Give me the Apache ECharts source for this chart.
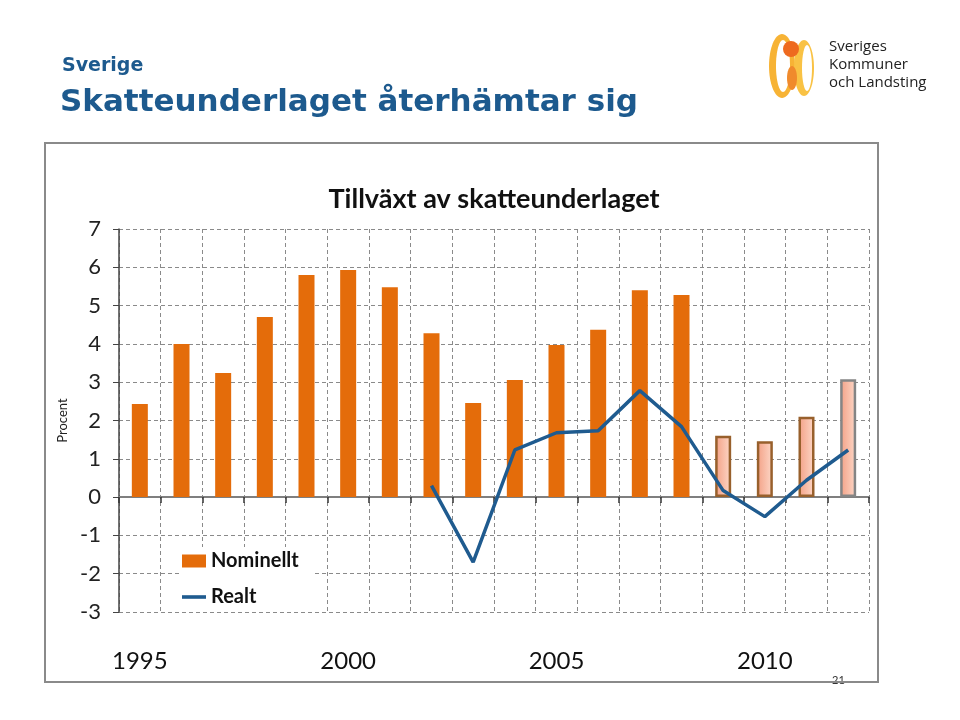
<!DOCTYPE html>
<html><head><meta charset="utf-8">
<script src="https://cdn.jsdelivr.net/npm/echarts@6/dist/echarts.min.js"></script>
<style>html,body{margin:0;padding:0;background:#fff}#c{width:960px;height:720px}</style>
</head><body><div id="c"></div>
<script>
const years = ['1995','1996','1997','1998','1999','2000','2001','2002','2003','2004','2005','2006','2007','2008','2009','2010','2011','2012'];
const nominellt = [2.43, 4.0, 3.24, 4.7, 5.8, 5.93, 5.48, 4.28, 2.46, 3.06, 3.97, 4.37, 5.4, 5.28, 1.6, 1.46, 2.1, 3.08];
const realt = [null, null, null, null, null, null, null, 0.3, -1.7, 1.23, 1.68, 1.73, 2.78, 1.84, 0.17, -0.51, 0.44, 1.23];
const forecastStart = 14;
const yTicks = [-3, -2, -1, 0, 1, 2, 3, 4, 5, 6, 7];
const xLabelYears = ['1995','2000','2005','2010'];

const chart = echarts.init(document.getElementById('c'), null, {renderer:'canvas'});
const grad = new echarts.graphic.LinearGradient(0, 0, 1, 0, [
  {offset:0, color:'#f3a085'}, {offset:1, color:'#fdd8c8'}]);
const barData = nominellt.map((v, i) => {
  if (i < forecastStart) return v;
  return {value: v, itemStyle: {color: grad, borderColor: i === years.length - 1 ? '#858585' : '#98602c', borderWidth: 2.5}};
});
const font = 'Lato, "Open Sans", sans-serif';
chart.setOption({
  animation: false,
  title: [
    {text: 'Sverige', left: 57, top: 52, textStyle: {fontFamily: '"DejaVu Sans", sans-serif', fontSize: 19, fontWeight: 'bold', color: '#1d5a8e'}},
    {text: 'Skatteunderlaget återhämtar sig', left: 55, top: 82, textStyle: {fontFamily: '"DejaVu Sans", sans-serif', fontSize: 31, fontWeight: 'bold', color: '#1d5a8e'}},
    {text: 'Tillväxt av skatteunderlaget', left: 489, top: 181, textAlign: 'center', textStyle: {fontFamily: font, fontSize: 27, fontWeight: 'bold', color: '#111'}}
  ],
  legend: {
    left: 180, top: 547, orient: 'vertical', itemGap: 16, itemWidth: 24, itemHeight: 13,
    backgroundColor: '#fff', padding: [4, 14, 4, 2],
    textStyle: {fontFamily: font, fontSize: 20, fontWeight: 'bold', color: '#111'},
    data: [{name: 'Nominellt', icon: 'rect'}, {name: 'Realt', icon: 'path://M0,0H40V6H0Z'}]
  },
  grid: {left: 119, right: 91, top: 229, bottom: 108},
  xAxis: [
    {type: 'category', data: years, axisLine: {onZero: true, lineStyle: {color: '#7f7f7f', width: 2}},
     axisTick: {show: true, alignWithLabel: false, length: 6, lineStyle: {color: '#333', width: 1.5}},
     axisLabel: {show: false},
     splitLine: {show: true, lineStyle: {color: '#8a8a8a', type: [4, 3], width: 1}}},
    {type: 'category', data: years, position: 'bottom', axisLine: {show: false}, axisTick: {show: false},
     axisLabel: {show: true, margin: 37, interval: 0, fontFamily: font, fontSize: 24, color: '#111',
       formatter: v => xLabelYears.includes(v) ? v : ''}}
  ],
  yAxis: {
    type: 'value', min: yTicks[0], max: yTicks[yTicks.length - 1], interval: 1,
    name: 'Procent', nameLocation: 'middle', nameGap: 41, nameRotate: 90,
    nameTextStyle: {fontFamily: font, fontSize: 13, color: '#222'},
    axisLine: {show: true, lineStyle: {color: '#444', width: 1.5}},
    axisTick: {show: true, length: 6, lineStyle: {color: '#444'}},
    axisLabel: {fontFamily: font, fontSize: 22, color: '#222', margin: 18},
    splitLine: {show: true, lineStyle: {color: '#8a8a8a', type: [4, 3], width: 1}}
  },
  series: [
    {name: 'Nominellt', type: 'bar', data: barData, barWidth: 16, itemStyle: {color: '#e46c0a'}},
    {name: 'Realt', type: 'line', data: realt, symbol: 'none', connectNulls: false,
     lineStyle: {color: '#1f5b8f', width: 3.5}, itemStyle: {color: '#1f5b8f'}}
  ],
  graphic: [
    {type: 'text', left: 832, top: 675, style: {text: '21', fontFamily: font, fontSize: 11, fill: '#333'}},
    {type: 'rect', shape: {x: 45, y: 143, width: 833, height: 539}, style: {fill: 'none', stroke: '#8a8a8a', lineWidth: 2}, silent: true},
    {type: 'ellipse', shape: {cx: 782, cy: 66, rx: 13, ry: 32}, style: {fill: '#f7b335'}},
    {type: 'ellipse', shape: {cx: 783, cy: 66, rx: 7, ry: 26}, style: {fill: '#fff'}},
    {type: 'ellipse', shape: {cx: 804, cy: 68, rx: 10, ry: 28}, style: {fill: '#f9c244'}},
    {type: 'ellipse', shape: {cx: 807, cy: 68, rx: 5, ry: 23}, style: {fill: '#fff'}},
    {type: 'circle', shape: {cx: 791, cy: 49, r: 8}, style: {fill: '#ee6a1f'}},
    {type: 'ellipse', shape: {cx: 792, cy: 78, rx: 5, ry: 12}, style: {fill: '#f08a2c'}},
    {type: 'text', left: 829, top: 38, style: {text: 'Sveriges\nKommuner\noch Landsting', fontFamily: '"Open Sans", sans-serif', fontSize: 15, lineHeight: 18, fill: '#222'}}
  ]
});
</script></body></html>
